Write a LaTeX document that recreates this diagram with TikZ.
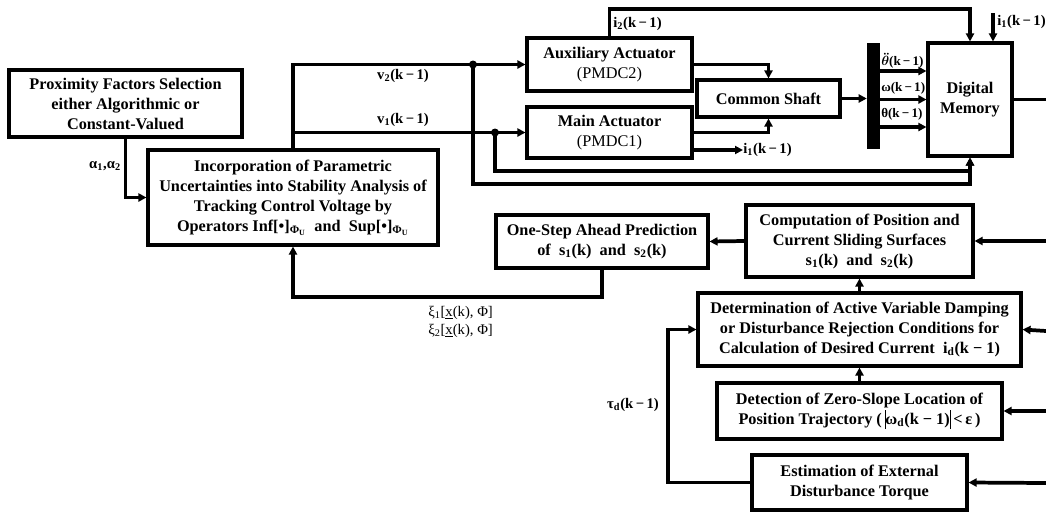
\documentclass[tikz,border=0pt]{standalone}
\usepackage{fontspec}
\setmainfont{Liberation Serif}
\usetikzlibrary{arrows.meta}
\newcommand{\sbs}[1]{\textsubscript{#1}}
\newcommand{\vbar}{\rule[-0.3em]{0.7pt}{1.2em}}
\newcommand{\km}{(k\,−\,1)}
\newcommand{\thddot}{{\boldmath$\ddot{\theta}$}}
\begin{document}
\begin{tikzpicture}[x=0.75pt,y=-0.75pt,
  font=\fontsize{11}{14.6}\selectfont\bfseries,
  blk/.style={draw,line width=2.3pt,align=center,inner sep=1pt,fill=white,
    font=\fontsize{12.2}{15}\selectfont\bfseries},
  conn/.style={line width=2.8pt},
  arr/.style={conn,-{Triangle[length=6pt,width=6pt]}},
  lbl/.style={inner sep=0pt,align=left},
  sml/.style={lbl,anchor=west,font=\fontsize{9.8}{11}\selectfont\bfseries}]
\useasboundingbox (0,0) rectangle (1046,511);

% blocks
\node[blk,minimum width=174.75pt,minimum height=50.25pt] (prox) at (125.5,103.5)
  {Proximity Factors Selection\\either Algorithmic or\\Constant-Valued};
\node[blk,minimum width=217.5pt,minimum height=71.25pt] (inc) at (293,197.5)
  {Incorporation of Parametric\\Uncertainties into Stability Analysis of\\Tracking Control Voltage by\\Operators\ Inf[•]\sbs{Φ\sbs{U}}\ \ and\ \ Sup[•]\sbs{Φ\sbs{U}}};
\node[blk,minimum width=123.75pt,minimum height=39.75pt] (aux) at (609.5,64.5)
  {Auxiliary Actuator\\{\mdseries (PMDC2)}};
\node[blk,minimum width=123.75pt,minimum height=38.25pt] (main) at (609.5,132.5)
  {Main Actuator\\{\mdseries (PMDC1)}};
\node[blk,minimum width=107.25pt,minimum height=27.75pt] (shaft) at (768.5,98.5)
  {Common Shaft};
\node[fill=black,inner sep=0pt,minimum width=9.75pt,minimum height=79.5pt] (bar) at (873.5,96) {};
\node[blk,minimum width=63pt,minimum height=84.75pt] (mem) at (970,99.5)
  {Digital\\Memory};
\node[blk,minimum width=159pt,minimum height=39.75pt] (onestep) at (602,241.5)
  {One-Step Ahead Prediction\\of\ \ s\sbs{1}(k)\ \ and\ \ s\sbs{2}(k)};
\node[blk,minimum width=170.25pt,minimum height=54pt] (comp) at (859.5,241)
  {Computation of Position and\\Current Sliding Surfaces\\s\sbs{1}(k)\ \ and\ \ s\sbs{2}(k)};
\node[blk,minimum width=242.25pt,minimum height=54.75pt] (det) at (859.5,329.5)
  {Determination of Active Variable Damping\\or Disturbance Rejection Conditions for\\Calculation of Desired Current\ \ i\sbs{d}(k − 1)};
\node[blk,minimum width=213.75pt,minimum height=42pt] (detect) at (859.5,411)
  {Detection of Zero-Slope Location of\\Position Trajectory (\,\vbar ω\sbs{d}(k − 1)\vbar\,<\,ε\,)};
\node[blk,minimum width=161.25pt,minimum height=41.25pt] (est) at (859.5,482.5)
  {Estimation of External\\Disturbance Torque};

% helper coordinates
\coordinate (dotA) at (473,64.5);
\coordinate (dotB) at (495,132.5);
\coordinate (loopA) at (473,184);
\coordinate (loopB) at (495,171);
\coordinate (topY) at (0,9);
\coordinate (i1in) at (993,13);
\coordinate (i1out) at (743,150);
\coordinate (r1) at (0,71);
\coordinate (r3) at (0,127);
\coordinate (memout) at (1046,99.5);
\coordinate (Rc) at (1046,241);
\coordinate (Rd) at (1046,331);
\coordinate (Rt) at (1046,411);
\coordinate (Re) at (1046,483);
\coordinate (tauX) at (668,0);
\coordinate (feedY) at (0,297);

% connectors
\draw[arr] (prox.south) |- (inc.west);
\draw[arr] (inc.north) |- (aux.west);
\draw[arr] (inc.north) |- (main.west);
\draw[arr] (dotA) -- (loopA) -| (mem.south);
\draw[arr] (dotB) -- (loopB) -| (mem.south);
\fill (dotA) circle[radius=3pt];
\fill (dotB) circle[radius=3pt];
\draw[arr] (aux.north) -- (aux.north |- topY) -| (mem.north);
\draw[arr] (i1in) -- (i1in |- mem.north);
\draw[arr] (aux.east) -| (shaft.north);
\draw[arr] (main.east) -| (shaft.south);
\draw[arr] (main.east |- i1out) -- (i1out);
\draw[arr] (shaft.east) -- (shaft.east -| bar.west);
\draw[arr] (bar.east |- r1) -- (mem.west |- r1);
\draw[arr] (bar.east |- mem.west) -- (mem.west);
\draw[arr] (bar.east |- r3) -- (mem.west |- r3);
\draw[conn] (mem.east) -- (memout);
\draw[arr] (Rc) -- (comp.east);
\draw[arr] (Rd) -- (det.east);
\draw[arr] (Rt) -- (detect.east);
\draw[arr] (Re) -- (est.east);
\draw[arr] (comp.west) -- (onestep.east);
\draw[arr] (det.north) -- (comp.south);
\draw[arr] (detect.north) -- (det.south);
\draw[arr] (est.west) -- (est.west -| tauX) |- (det.west);
\draw[arr] (onestep.south) -- (onestep.south |- feedY) -| (inc.south);

% labels
\node[lbl] (lalpha) at (105,166) {α\sbs{1},α\sbs{2}};
\node[lbl] (lv2) at (403,76) {v\sbs{2}\km};
\node[lbl] (lv1) at (403,120) {v\sbs{1}\km};
\node[lbl,anchor=west] (li2) at (613,24) {i\sbs{2}\km};
\node[lbl,anchor=west] (li1a) at (997,22) {i\sbs{1}\km};
\node[lbl,anchor=west] (li1b) at (i1out) {i\sbs{1}\km};
\node[sml] (lth2) at (881,61) {\thddot\km};
\node[sml] (lom) at (881,88) {ω\km};
\node[sml] (lth) at (881,114) {θ\km};
\node[lbl,anchor=west,font=\fontsize{11}{13.5}\selectfont] (lxi) at (428,322)
  {ξ\sbs{1}[\underline{x}(k), Φ]\\ξ\sbs{2}[\underline{x}(k), Φ]};
\node[lbl] (ltau) at (633,405) {τ\sbs{d}\km};
\end{tikzpicture}
\end{document}
